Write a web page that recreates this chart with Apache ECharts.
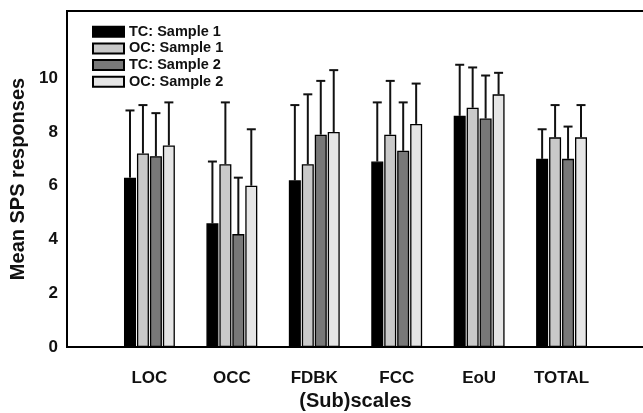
<!DOCTYPE html>
<html>
<head>
<meta charset="utf-8">
<script src="https://cdn.jsdelivr.net/npm/echarts@6/dist/echarts.min.js"></script>
<style>
html,body{margin:0;padding:0;background:#fff;}
#chart{width:643px;height:413px;}
</style>
</head>
<body>
<div id="chart"></div>
<script>
// ---- data ----
const categories = ['LOC', 'OCC', 'FDBK', 'FCC', 'EoU', 'TOTAL'];
const seriesNames = ['TC: Sample 1', 'OC: Sample 1', 'TC: Sample 2', 'OC: Sample 2'];
const tc1Mean = [6.3, 4.6, 6.2, 6.9, 8.6, 7.0];
const oc1Mean = [7.2, 6.8, 6.8, 7.9, 8.9, 7.8];
const tc2Mean = [7.1, 4.2, 7.9, 7.3, 8.5, 7.0];
const oc2Mean = [7.5, 6.0, 8.0, 8.3, 9.4, 7.8];
const tc1Sd = [2.5, 2.3, 2.8, 2.2, 1.9, 1.1];
const oc1Sd = [1.8, 2.3, 2.6, 2.0, 1.5, 1.2];
const tc2Sd = [1.6, 2.1, 2.0, 1.8, 1.6, 1.2];
const oc2Sd = [1.6, 2.1, 2.3, 1.5, 0.8, 1.2];
const yTicks = [0, 2, 4, 6, 8, 10];

// ---- styling ----
const colors = ['#000000', '#c9c9c9', '#787878', '#e5e5e5'];
const FONT = "'Liberation Sans', Arial, sans-serif";
const BAR_W = 12;
const GAP_RATIO = 0.08;

const means = [tc1Mean, oc1Mean, tc2Mean, oc2Mean];
const sds = [tc1Sd, oc1Sd, tc2Sd, oc2Sd];
const axisCats = [''].concat(categories, ['']);

function offsetFor(i) {
  const gap = BAR_W * GAP_RATIO;
  const total = 4 * BAR_W + 3 * gap;
  return -total / 2 + BAR_W / 2 + i * (BAR_W + gap);
}

const series = [];
means.forEach((m, i) => {
  series.push({
    name: seriesNames[i],
    type: 'bar',
    barWidth: BAR_W,
    barGap: (GAP_RATIO * 100) + '%',
    data: [null].concat(m, [null]),
    itemStyle: { color: colors[i], borderColor: '#000', borderWidth: 1.3 },
    z: 3
  });
});
means.forEach((m, i) => {
  const d = m.map((v, k) => [k + 1, v, v + sds[i][k]]);
  series.push({
    type: 'custom',
    name: seriesNames[i] + ' err',
    data: d,
    z: 2,
    silent: true,
    renderItem: function (params, api) {
      const base = api.coord([api.value(0), api.value(1)]);
      const top = api.coord([api.value(0), api.value(2)]);
      const x = base[0] + offsetFor(i);
      const cap = 4.5;
      return {
        type: 'group',
        children: [
          { type: 'line', shape: { x1: x, y1: base[1], x2: x, y2: top[1] },
            style: { stroke: '#111', lineWidth: 2 } },
          { type: 'line', shape: { x1: x - cap, y1: top[1], x2: x + cap, y2: top[1] },
            style: { stroke: '#111', lineWidth: 2 } }
        ]
      };
    }
  });
});

const chart = echarts.init(document.getElementById('chart'), null, { renderer: 'canvas' });
chart.setOption({
  animation: false,
  backgroundColor: '#fff',
  textStyle: { fontFamily: FONT },
  grid: { left: 67, right: -1, top: 11, bottom: 66, show: true, borderColor: '#000', borderWidth: 2,
          containLabel: false, outerBoundsMode: 'none' },
  legend: {
    data: seriesNames,
    orient: 'vertical',
    left: 87, top: 18.7,
    icon: 'rect',
    itemWidth: 31, itemHeight: 10, itemGap: 0.7,
    textStyle: { fontFamily: FONT, fontSize: 14.5, fontWeight: 'bold', color: '#111', lineHeight: 16 }
  },
  xAxis: {
    type: 'category',
    data: axisCats,
    boundaryGap: false,
    axisLine: { lineStyle: { color: '#000', width: 2 } },
    axisTick: { show: false },
    axisLabel: { fontFamily: FONT, fontSize: 17, fontWeight: 'bold', color: '#111', margin: 23, interval: 0 },
    name: '(Sub)scales',
    nameLocation: 'middle',
    nameGap: 44,
    nameTextStyle: { fontFamily: FONT, fontSize: 20, fontWeight: 'bold', color: '#111' }
  },
  yAxis: {
    type: 'value',
    min: 0, max: 12.5, interval: 2,
    axisLine: { show: true, lineStyle: { color: '#000', width: 2 } },
    axisTick: { show: false },
    splitLine: { show: false },
    axisLabel: {
      fontFamily: FONT, fontSize: 17, fontWeight: 'bold', color: '#111', margin: 9,
      formatter: v => (yTicks.indexOf(v) >= 0 ? String(v) : '')
    },
    name: 'Mean SPS responses',
    nameLocation: 'middle',
    nameGap: 34,
    nameTextStyle: { fontFamily: FONT, fontSize: 20, fontWeight: 'bold', color: '#111' }
  },
  series: series
});
</script>
</body>
</html>
